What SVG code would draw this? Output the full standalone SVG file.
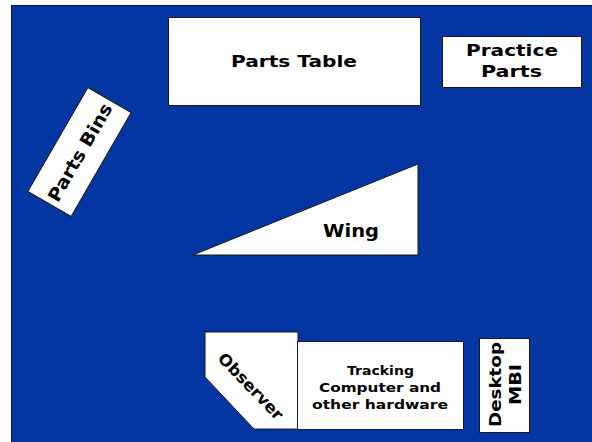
<svg xmlns="http://www.w3.org/2000/svg" width="592" height="442" viewBox="0 0 592 442">
<style>
.shape{fill:#ffffff;stroke:#1a1a1a;stroke-width:1}
.lbl{font-family:"DejaVu Sans","Liberation Sans",sans-serif;font-weight:bold;fill:#000;text-anchor:middle}
</style>
<rect x="0" y="0" width="592" height="442" fill="#ffffff"/>
<rect id="floor" x="11.5" y="5.5" width="590" height="440" fill="#0336a3" stroke="#0a1440" stroke-width="1"/>
<g id="parts-table">
<rect class="shape" x="168.5" y="17.5" width="252" height="88"/>
<text class="lbl" x="294" y="67" font-size="16" textLength="126" lengthAdjust="spacingAndGlyphs">Parts Table</text>
</g>
<g id="practice-parts">
<rect class="shape" x="442.5" y="36.5" width="139" height="51"/>
<text class="lbl" x="512" y="56" font-size="15" textLength="92" lengthAdjust="spacingAndGlyphs">Practice</text>
<text class="lbl" x="511.5" y="77" font-size="15" textLength="61" lengthAdjust="spacingAndGlyphs">Parts</text>
</g>
<g id="parts-bins" transform="translate(79.5,152) rotate(-60)">
<rect class="shape" x="-60" y="-25" width="120" height="50"/>
<text class="lbl" x="0" y="7" font-size="18" textLength="110" lengthAdjust="spacingAndGlyphs">Parts Bins</text>
</g>
<g id="wing">
<polygon class="shape" points="193,255 418,164 418,255"/>
<text class="lbl" x="351" y="237" font-size="17" textLength="56" lengthAdjust="spacingAndGlyphs">Wing</text>
</g>
<g id="observer">
<polygon class="shape" points="205,332 298,332 298,429 254,429 205,377"/>
<text class="lbl" transform="translate(251,386) rotate(46)" x="0" y="6" font-size="16" textLength="86" lengthAdjust="spacingAndGlyphs">Observer</text>
</g>
<g id="tracking-computer">
<rect class="shape" x="297.5" y="341.5" width="166" height="88"/>
<text class="lbl" x="380.5" y="375" font-size="11.5" textLength="67" lengthAdjust="spacingAndGlyphs">Tracking</text>
<text class="lbl" x="380" y="392" font-size="11.5" textLength="122" lengthAdjust="spacingAndGlyphs">Computer and</text>
<text class="lbl" x="380" y="409" font-size="11.5" textLength="136" lengthAdjust="spacingAndGlyphs">other hardware</text>
</g>
<g id="desktop-mbi">
<rect class="shape" x="479.5" y="338.5" width="50" height="94"/>
<text class="lbl" transform="translate(501,384.5) rotate(-90)" x="0" y="0" font-size="16" textLength="85" lengthAdjust="spacingAndGlyphs">Desktop</text>
<text class="lbl" transform="translate(520.5,384.5) rotate(-90)" x="0" y="0" font-size="16" textLength="41" lengthAdjust="spacingAndGlyphs">MBI</text>
</g>
<g id="connectors"></g>
</svg>
